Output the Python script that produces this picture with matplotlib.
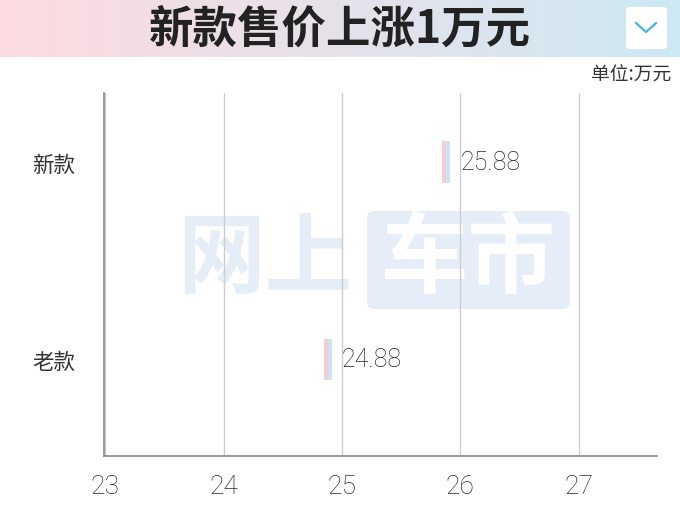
import numpy as np
import matplotlib
matplotlib.use("Agg")
import matplotlib.pyplot as plt
from matplotlib.colors import LinearSegmentedColormap
from matplotlib.patches import FancyBboxPatch
from matplotlib.lines import Line2D

# data
categories = ['老款', '新款']
prices = [24.88, 25.88]
x_ticks = [23, 24, 25, 26, 27]
title = '新款售价上涨1万元'
unit_label = '单位:万元'

plt.rcParams['font.family'] = ['Noto Sans CJK SC', 'DejaVu Sans']
num_font = ['Roboto', 'DejaVu Sans']

W, H = 680, 510
fig = plt.figure(figsize=(6.8, 5.1), dpi=100)

def fx(px):
    return px / W

def fy(py):
    return 1 - py / H

# header band with pink -> blue gradient
hdr = fig.add_axes([0, fy(58), 1, 58 / H])
hdr.axis('off')
grad_cmap = LinearSegmentedColormap.from_list('hdr', ['#fcdbe1', '#e6e2ea', '#cde9f4'])
hdr.imshow(np.linspace(0, 1, 256).reshape(1, -1), aspect='auto', cmap=grad_cmap,
           extent=[0, 1, 0, 1])
hdr.set_xlim(0, 1)
hdr.set_ylim(0, 1)

fig.text(0.5, fy(31), title, ha='center', va='center', fontsize=32,
         fontweight='bold', color='#222222')

# dropdown icon in the header
icon = FancyBboxPatch((fx(626), fy(50)), fx(41), 42 / H,
                      boxstyle='round,pad=0,rounding_size=0.006',
                      transform=fig.transFigure, facecolor='white',
                      edgecolor='none', zorder=5)
fig.patches.append(icon)
fig.lines.append(Line2D([fx(636), fx(646), fx(656)], [fy(24), fy(33), fy(24)],
                        transform=fig.transFigure, color='#45b5dc', lw=1.6,
                        zorder=6))

fig.text(fx(671), fy(75), unit_label, ha='right', va='center', fontsize=13.5,
         color='#333333')

# main axes
ax = fig.add_axes([fx(104), fy(457), fx(657 - 104), (457 - 94) / H])
ax.set_facecolor('none')

# watermark
wm_color = '#e5eef8'
ax.text(fx(265), fy(261), '网上', transform=fig.transFigure, ha='center',
        va='center', fontsize=63, fontweight='bold', color=wm_color, zorder=0.5)
box = FancyBboxPatch((fx(367), fy(310)), fx(570 - 367), (310 - 212) / H,
                     boxstyle='round,pad=0,rounding_size=0.012',
                     transform=fig.transFigure, facecolor=wm_color,
                     edgecolor='none', zorder=0.4)
ax.add_patch(box)
ax.text(fx(468), fy(261), '车市', transform=fig.transFigure, ha='center',
        va='center', fontsize=63, fontweight='bold', color='white', zorder=0.5)

ypos = np.arange(len(categories))
half = 0.034
bar_h = 0.21
# thin gradient markers: pink left half, blue right half
ax.barh(ypos, half, left=np.array(prices) - half, height=bar_h,
        color='#f7cdd5', zorder=3)
ax.barh(ypos, half, left=np.array(prices), height=bar_h,
        color='#cde2f2', zorder=3)

for y, v in zip(ypos, prices):
    ax.text(v + 0.12, y, f'{v:.2f}', ha='left', va='center', fontsize=18,
            family=num_font, fontweight='light', color='#222222', zorder=4)

ax.set_xlim(22.99, 27.66)
ax.set_ylim(-0.49, 1.35)
ax.set_xticks(x_ticks)
ax.set_xticklabels([str(t) for t in x_ticks], family=num_font, fontsize=19,
                   fontweight='light', color='#2a2a2a')
ax.set_yticks(ypos)
ax.set_yticklabels(categories, fontsize=15.5, color='#333333')
ax.tick_params(axis='x', length=0, pad=13)
ax.tick_params(axis='y', length=0, pad=21)

ax.grid(axis='x', color='#cccccc', lw=1)
ax.grid(axis='y', visible=False)
ax.set_axisbelow(True)
for side in ['top', 'right']:
    ax.spines[side].set_visible(False)
for side in ['left', 'bottom']:
    ax.spines[side].set_color('#888888')
    ax.spines[side].set_linewidth(1.2)

fig.savefig('out.png', dpi=100)
